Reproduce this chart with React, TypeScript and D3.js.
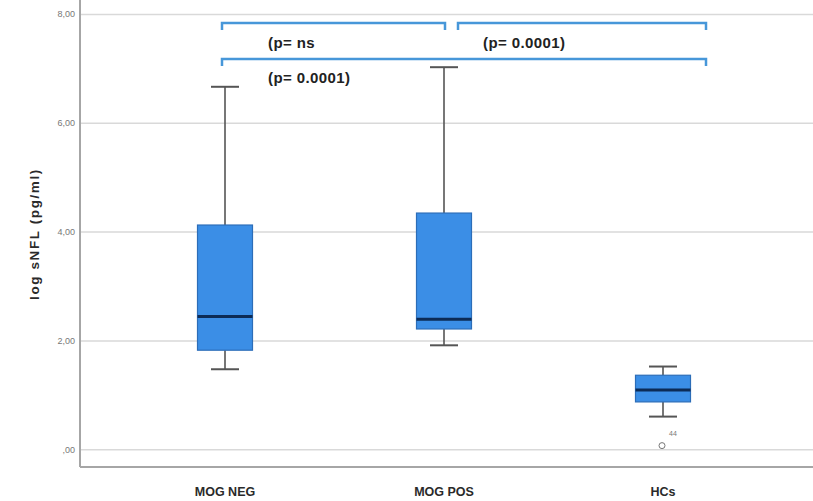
import React from "react";
import * as d3 from "d3";

const categories = ["MOG NEG", "MOG POS", "HCs"];
const whiskerLow = [1.48, 1.92, 0.61];
const q1 = [1.83, 2.22, 0.88];
const medians = [2.45, 2.4, 1.1];
const q3 = [4.13, 4.35, 1.37];
const whiskerHigh = [6.67, 7.03, 1.53];
const outlierCats = ["HCs"];
const outlierValues = [0.04];
const outlierLabels = ["44"];
const yTicks = [0, 2, 4, 6, 8];
const yTickLabels = [",00", "2,00", "4,00", "6,00", "8,00"];
const yTitle = "log sNFL (pg/ml)";
const pLabels = ["(p= ns", "(p= 0.0001)", "(p= 0.0001)"];

const W = 813;
const H = 501;
const AXIS_X = 80;
const AXIS_Y = 467;
const BOX_W = 55;
const CAP_W = 28;
const BLUE = "#3b8ee6";
const BRACKET = "#4797d9";

export default function App() {
  const x = d3.scalePoint<string>().domain(categories).range([225, 663]);
  const y = d3.scaleLinear().domain([0, 8]).range([449.8, 14.4]);

  const brackets = [
    { x1: x("MOG NEG")! - 3, x2: x("MOG POS")! + 1, yy: 23, tx: 268, ty: 48, label: pLabels[0] },
    { x1: x("MOG POS")! + 14, x2: x("HCs")! + 43, yy: 23, tx: 483, ty: 48, label: pLabels[1] },
    { x1: x("MOG NEG")! - 3, x2: x("HCs")! + 43, yy: 59, tx: 268, ty: 83, label: pLabels[2] },
  ];

  return (
    <svg width={W} height={H} style={{ position: "absolute", left: 0, top: 0, background: "#fff" }}>
      {yTicks.map((t) => (
        <line key={t} x1={AXIS_X} x2={W} y1={y(t)} y2={y(t)} stroke="#d9d9d9" strokeWidth={1.5} />
      ))}
      <line x1={AXIS_X} x2={AXIS_X} y1={0} y2={AXIS_Y} stroke="#a6a6a6" strokeWidth={2} />
      <line x1={AXIS_X} x2={W} y1={AXIS_Y} y2={AXIS_Y} stroke="#a6a6a6" strokeWidth={2} />
      {yTicks.map((t, i) => (
        <text key={t} x={75} y={y(t) + 3} textAnchor="end" fontSize={9} fill="#777" fontFamily="Liberation Sans, Arial, sans-serif">
          {yTickLabels[i]}
        </text>
      ))}
      <text
        transform={`translate(39, 234) rotate(-90)`}
        textAnchor="middle"
        fontSize={13.5}
        fontWeight="bold"
        letterSpacing={1.6}
        fill="#2a2a2a"
        fontFamily="Liberation Sans, Arial, sans-serif"
      >
        {yTitle}
      </text>
      {categories.map((c) => (
        <text key={c} x={x(c)} y={496} textAnchor="middle" fontSize={12.5} fontWeight="bold" fill="#2a2a2a" fontFamily="Liberation Sans Narrow, Liberation Sans, Arial, sans-serif">
          {c}
        </text>
      ))}
      {categories.map((c, i) => {
        const cx = x(c)!;
        return (
          <g key={c}>
            <line x1={cx} x2={cx} y1={y(whiskerHigh[i])} y2={y(q3[i])} stroke="#555" strokeWidth={1.6} />
            <line x1={cx} x2={cx} y1={y(q1[i])} y2={y(whiskerLow[i])} stroke="#555" strokeWidth={1.6} />
            <line x1={cx - CAP_W / 2} x2={cx + CAP_W / 2} y1={y(whiskerHigh[i])} y2={y(whiskerHigh[i])} stroke="#555" strokeWidth={2} />
            <line x1={cx - CAP_W / 2} x2={cx + CAP_W / 2} y1={y(whiskerLow[i])} y2={y(whiskerLow[i])} stroke="#555" strokeWidth={2} />
            <rect x={cx - BOX_W / 2} y={y(q3[i])} width={BOX_W} height={y(q1[i]) - y(q3[i])} fill={BLUE} stroke="#2c6db8" strokeWidth={1.2} />
            <line x1={cx - BOX_W / 2} x2={cx + BOX_W / 2} y1={y(medians[i])} y2={y(medians[i])} stroke="#0c2b56" strokeWidth={3} />
          </g>
        );
      })}
      {outlierCats.map((c, i) => (
        <g key={i}>
          <circle cx={x(c)! - 1} cy={y(outlierValues[i]) - 2} r={3} fill="#fff" stroke="#777" strokeWidth={1} />
          <text x={x(c)! + 6} y={y(outlierValues[i]) - 12} fontSize={7} fill="#777" fontFamily="Liberation Sans, Arial, sans-serif">
            {outlierLabels[i]}
          </text>
        </g>
      ))}
      {brackets.map((b, i) => (
        <g key={i}>
          <path d={`M${b.x1},${b.yy + 7}V${b.yy}H${b.x2}V${b.yy + 7}`} fill="none" stroke={BRACKET} strokeWidth={2.5} />
          <text x={b.tx} y={b.ty} fontSize={15} letterSpacing={0.4} fontWeight="bold" fill="#222" fontFamily="Liberation Sans, Arial, sans-serif">
            {b.label}
          </text>
        </g>
      ))}
    </svg>
  );
}
